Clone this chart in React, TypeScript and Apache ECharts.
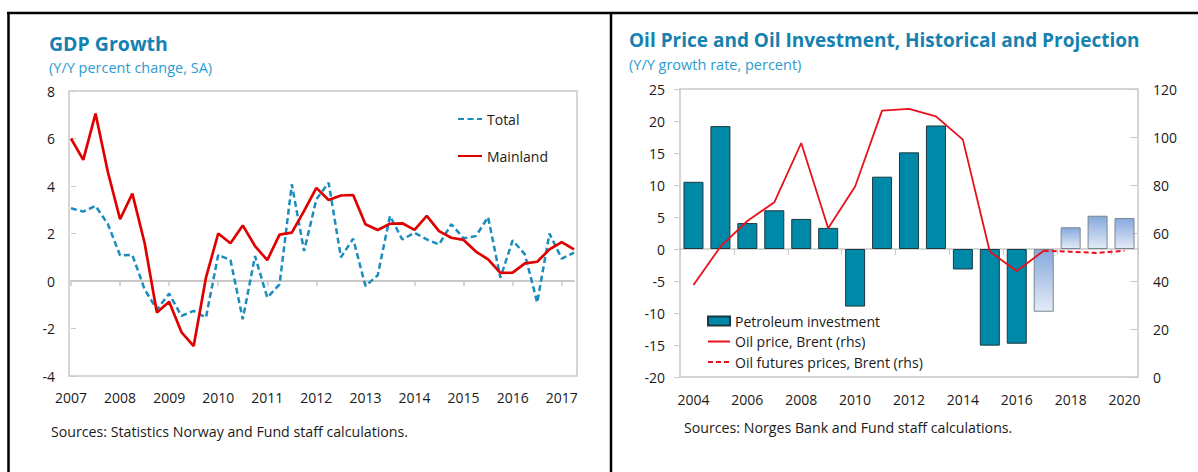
import React, { useEffect, useRef } from "react";
import * as echarts from "echarts";

// ---------- Left chart: GDP growth (quarterly, 2007Q1 - 2017Q2) ----------
const gdpYears = [2007, 2008, 2009, 2010, 2011, 2012, 2013, 2014, 2015, 2016, 2017];
const gdpQuarters = gdpYears
  .flatMap((y) => [1, 2, 3, 4].map((q) => `${y}Q${q}`))
  .slice(0, 42);
const totalGdp = [
  3.06, 2.92, 3.16, 2.4, 1.08, 1.1, -0.35, -1.2, -0.53, -1.47, -1.26, -1.54,
  1.1, 0.88, -1.61, 1.05, -0.7, -0.14, 4.07, 1.26, 3.44, 4.14, 1.0, 1.78,
  -0.21, 0.24, 2.74, 1.75, 2.03, 1.75, 1.54, 2.39, 1.8, 1.89, 2.69, 0.14,
  1.71, 1.12, -0.91, 2.0, 0.94, 1.19,
];
const mainlandGdp = [
  6.0, 5.1, 7.05, 4.6, 2.6, 3.68, 1.6, -1.33, -0.87, -2.15, -2.74, 0.14,
  2.0, 1.59, 2.34, 1.47, 0.88, 1.95, 2.04, 2.95, 3.92, 3.41, 3.6, 3.62,
  2.39, 2.15, 2.41, 2.43, 2.15, 2.74, 2.1, 1.82, 1.73, 1.24, 0.91, 0.34,
  0.35, 0.74, 0.81, 1.33, 1.64, 1.33,
];
const gdpTicks = { min: -4, max: 8, interval: 2 };

// ---------- Right chart: oil price and oil investment ----------
const oilYears = [
  "2004", "2005", "2006", "2007", "2008", "2009", "2010", "2011", "2012",
  "2013", "2014", "2015", "2016", "2017", "2018", "2019", "2020",
];
const petroleumInvestment = [
  10.5, 19.2, 4.05, 6.05, 4.7, 3.3, -9.0, 11.3, 15.1, 19.3, -3.2, -15.1,
  -14.8, -9.8, 3.4, 5.2, 4.85,
];
const projectionFrom = "2017";
const oilPriceBrent = [
  38.3, 54.3, 65.0, 72.8, 97.5, 62.0, 79.4, 111.0, 111.7, 108.6, 98.9, 52.2,
  44.2, 52.6, null, null, null,
];
const oilFuturesBrent = [
  null, null, null, null, null, null, null, null, null, null, null, null,
  null, 52.6, 52.2, 51.7, 52.6,
];
const investTicks = { min: -20, max: 25, interval: 5 };
const priceTicks = { min: 0, max: 120, interval: 20 };

const FONT = '"Open Sans", "Noto Sans", sans-serif';
const TITLE = "#1581b0";
const SUB = "#2d9bd0";
const TXT = "#1a1a1a";
const BORDER = "#c9c9c9";

export default function App() {
  const ref = useRef<HTMLDivElement>(null);

  useEffect(() => {
    if (!ref.current) return;
    const chart = echarts.init(ref.current, undefined, { renderer: "svg" });

    const projIdx = oilYears.indexOf(projectionFrom);
    const barData = petroleumInvestment.map((v, i) =>
      i >= projIdx
        ? {
            value: v,
            itemStyle: {
              color: new echarts.graphic.LinearGradient(0, 0, 0, 1, [
                { offset: 0, color: "#86a9dc" },
                { offset: 1, color: "#e3ebf7" },
              ]),
              borderColor: "#7b8691",
              borderWidth: 1,
            },
          }
        : v
    );

    const text = (t: string, x: number, y: number, font: string, fill: string) => ({
      type: "text",
      x,
      y,
      silent: true,
      style: { text: t, font, fill, verticalAlign: "middle", align: "left" },
    });

    const noSymbol = { opacity: 0 };

    chart.setOption({
      animation: false,
      backgroundColor: "#ffffff",
      textStyle: { fontFamily: FONT },
      grid: [
        { left: 71, top: 91, width: 503, height: 285 },
        { left: 680, top: 89, width: 458, height: 288 },
      ],
      legend: [
        {
          data: [
            { name: "Total", itemStyle: noSymbol },
            { name: "Mainland", itemStyle: noSymbol },
          ],
          orient: "vertical",
          left: 457,
          top: 112,
          padding: 0,
          itemWidth: 24,
          itemHeight: 14,
          itemGap: 23,
          textStyle: { fontSize: 14, color: TXT, fontFamily: FONT },
        },
        {
          data: [
            { name: "Petroleum investment", icon: "rect" },
            { name: "Oil price, Brent (rhs)", itemStyle: noSymbol },
            { name: "Oil futures prices, Brent (rhs)", itemStyle: noSymbol },
          ],
          orient: "vertical",
          left: 707,
          top: 314,
          padding: 0,
          itemWidth: 22,
          itemHeight: 9,
          itemGap: 6.5,
          textStyle: { fontSize: 14, color: TXT, fontFamily: FONT },
        },
      ],
      xAxis: [
        {
          gridIndex: 0,
          type: "category",
          data: gdpQuarters,
          boundaryGap: false,
          axisLine: { show: false, onZero: false },
          axisTick: { show: false },
          axisLabel: {
            interval: 3,
            margin: 14,
            fontSize: 14,
            color: TXT,
            formatter: (v: string) => v.slice(0, 4),
          },
        },
        {
          gridIndex: 0,
          type: "category",
          data: gdpQuarters,
          boundaryGap: false,
          axisLine: { show: true, onZero: true, onZeroAxisIndex: 0, lineStyle: { color: BORDER, width: 2 } },
          axisTick: { show: true, inside: true, interval: 3, length: 5, lineStyle: { color: BORDER, width: 1.5 } },
          axisLabel: { show: false },
        },
        {
          gridIndex: 1,
          type: "category",
          data: oilYears,
          axisLine: { show: false, onZero: false },
          axisTick: { show: false },
          axisLabel: { interval: 1, margin: 15, fontSize: 14, color: TXT },
        },
        {
          gridIndex: 1,
          type: "category",
          data: oilYears,
          axisLine: { show: true, onZero: true, onZeroAxisIndex: 1, lineStyle: { color: BORDER, width: 1.5 } },
          axisTick: { show: true, inside: true, interval: 1, length: 6, lineStyle: { color: BORDER } },
          axisLabel: { show: false },
        },
      ],
      yAxis: [
        {
          gridIndex: 0,
          type: "value",
          ...gdpTicks,
          axisLine: { show: false },
          axisTick: { show: true, inside: true, length: 5, lineStyle: { color: BORDER } },
          splitLine: { show: false },
          axisLabel: { margin: 16, fontSize: 14, color: TXT },
        },
        {
          gridIndex: 1,
          type: "value",
          position: "left",
          ...investTicks,
          axisLine: { show: false },
          axisTick: { show: true, inside: false, length: 6, lineStyle: { color: BORDER } },
          splitLine: { show: false },
          axisLabel: { margin: 15, fontSize: 14, color: TXT },
        },
        {
          gridIndex: 1,
          type: "value",
          position: "right",
          ...priceTicks,
          axisLine: { show: false },
          axisTick: { show: true, inside: true, length: 8, lineStyle: { color: BORDER } },
          splitLine: { show: false },
          axisLabel: { margin: 15, fontSize: 14, color: TXT },
        },
      ],
      series: [
        {
          name: "Total",
          type: "line",
          xAxisIndex: 0,
          yAxisIndex: 0,
          data: totalGdp,
          symbol: "none",
          lineStyle: { color: "#1a8cbd", width: 2.5, type: [6, 3.5] },
          itemStyle: { color: "#1a8cbd" },
          z: 3,
        },
        {
          name: "Mainland",
          type: "line",
          xAxisIndex: 0,
          yAxisIndex: 0,
          data: mainlandGdp,
          symbol: "none",
          lineStyle: { color: "#e00000", width: 2.7 },
          itemStyle: { color: "#e00000" },
          z: 4,
        },
        {
          name: "Petroleum investment",
          type: "bar",
          xAxisIndex: 2,
          yAxisIndex: 1,
          data: barData,
          barWidth: 20,
          itemStyle: { color: "#0088a8", borderColor: "#1d3940", borderWidth: 1 },
          z: 2,
        },
        {
          name: "Oil price, Brent (rhs)",
          type: "line",
          xAxisIndex: 2,
          yAxisIndex: 2,
          data: oilPriceBrent,
          symbol: "none",
          lineStyle: { color: "#e8101a", width: 1.8 },
          itemStyle: { color: "#e8101a" },
          z: 4,
        },
        {
          name: "Oil futures prices, Brent (rhs)",
          type: "line",
          xAxisIndex: 2,
          yAxisIndex: 2,
          data: oilFuturesBrent,
          symbol: "none",
          lineStyle: { color: "#e8101a", width: 2, type: [5, 3] },
          itemStyle: { color: "#e8101a" },
          z: 4,
        },
      ],
      graphic: [
        // frame
        { type: "line", silent: true, shape: { x1: 7, y1: 13, x2: 1198, y2: 13 }, style: { stroke: "#000", lineWidth: 2.5 } },
        { type: "line", silent: true, shape: { x1: 8.5, y1: 12, x2: 8.5, y2: 472 }, style: { stroke: "#000", lineWidth: 2.5 } },
        { type: "line", silent: true, shape: { x1: 611, y1: 12, x2: 611, y2: 472 }, style: { stroke: "#000", lineWidth: 2.5 } },
        // plot borders
        { type: "rect", silent: true, z: -1, shape: { x: 69, y: 91, width: 508, height: 285 }, style: { fill: "none", stroke: BORDER, lineWidth: 1.5 } },
        { type: "rect", silent: true, z: -1, shape: { x: 680, y: 89, width: 458, height: 288 }, style: { fill: "none", stroke: BORDER, lineWidth: 1.5 } },
        // titles
        text("GDP Growth", 49, 43, `bold 19.5px ${FONT}`, TITLE),
        text("(Y/Y percent change, SA)", 49, 67, `14.5px ${FONT}`, SUB),
        text("Oil Price and Oil Investment, Historical and Projection", 629, 40, `bold 19px ${FONT}`, TITLE),
        text("(Y/Y growth rate, percent)", 629, 64, `14.5px ${FONT}`, SUB),
        // sources
        text("Sources: Statistics Norway and Fund staff calculations.", 51, 431, `14.2px ${FONT}`, TXT),
        text("Sources: Norges Bank and Fund staff calculations.", 684, 427, `14.2px ${FONT}`, TXT),
      ],
    });

    return () => chart.dispose();
  }, []);

  return (
    <div
      ref={ref}
      style={{ position: "fixed", left: 0, top: 0, width: 1198, height: 472, background: "#fff" }}
    />
  );
}
